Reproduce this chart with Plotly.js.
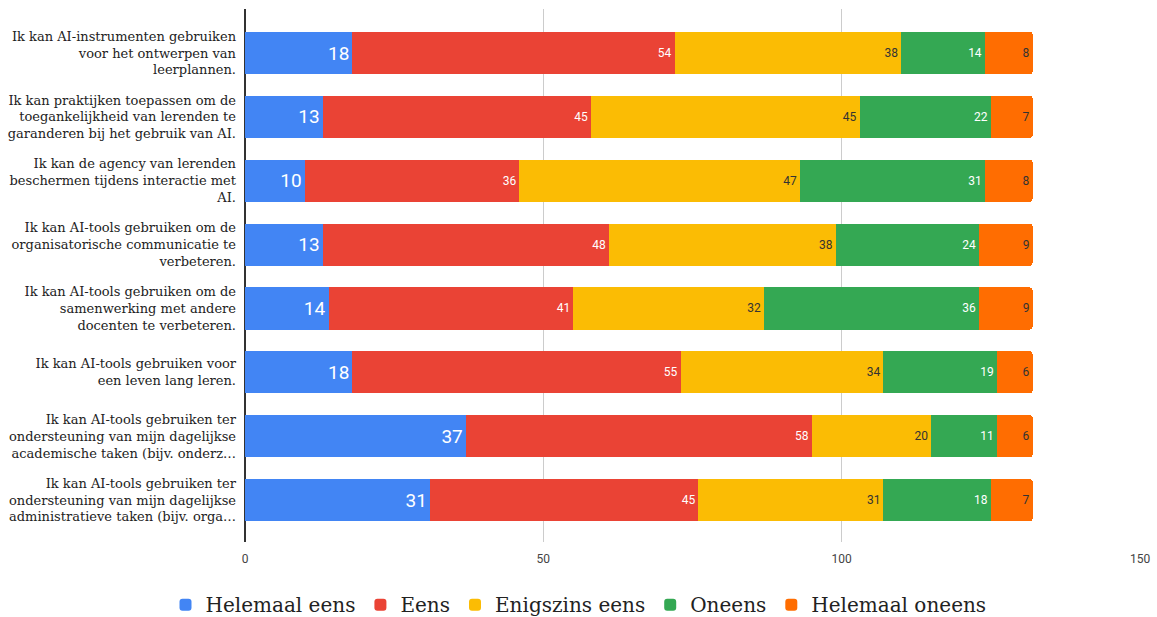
<!DOCTYPE html>
<html>
<head>
<meta charset="utf-8">
<script src="https://cdn.plot.ly/plotly-3.0.1.min.js"></script>
<style>html,body{margin:0;padding:0;background:#fff;}#chart{width:1157px;height:617px;}</style>
</head>
<body>
<div id="chart"></div>
<script>
const categories = [
  "Ik kan AI-instrumenten gebruiken<br>voor het ontwerpen van<br>leerplannen.",
  "Ik kan praktijken toepassen om de<br>toegankelijkheid van lerenden te<br>garanderen bij het gebruik van AI.",
  "Ik kan de agency van lerenden<br>beschermen tijdens interactie met<br>AI.",
  "Ik kan AI-tools gebruiken om de<br>organisatorische communicatie te<br>verbeteren.",
  "Ik kan AI-tools gebruiken om de<br>samenwerking met andere<br>docenten te verbeteren.",
  "Ik kan AI-tools gebruiken voor<br>een leven lang leren.",
  "Ik kan AI-tools gebruiken ter<br>ondersteuning van mijn dagelijkse<br>academische taken (bijv. onderz…",
  "Ik kan AI-tools gebruiken ter<br>ondersteuning van mijn dagelijkse<br>administratieve taken (bijv. orga…"
];
const seriesNames = ["Helemaal eens", "Eens", "Enigszins eens", "Oneens", "Helemaal oneens"];
const helemaalEens   = [18, 13, 10, 13, 14, 18, 37, 31];
const eens           = [54, 45, 36, 48, 41, 55, 58, 45];
const enigszinsEens  = [38, 45, 47, 38, 32, 34, 20, 31];
const oneens         = [14, 22, 31, 24, 36, 19, 11, 18];
const helemaalOneens = [8, 7, 8, 9, 9, 6, 6, 7];
const xTicks = [0, 50, 100, 150];

const seriesValues = [helemaalEens, eens, enigszinsEens, oneens, helemaalOneens];
const colors = ["#4285F4", "#EA4335", "#FBBC04", "#34A853", "#FF6D01"];
const textColors = ["#ffffff", "#ffffff", "#333333", "#ffffff", "#333333"];
const textSizes = [19, 12, 12, 12, 12];

const traces = seriesValues.map((vals, i) => ({
  type: "bar",
  orientation: "h",
  name: seriesNames[i],
  x: vals,
  y: categories,
  marker: {color: colors[i], line: {width: 0}},
  text: vals.map(v => String(v)),
  textposition: "inside",
  insidetextanchor: "end",
  textangle: 0,
  constraintext: "none",
  textfont: {family: "Roboto", size: textSizes[i], color: textColors[i]},
  hoverinfo: "x+name"
}));

const layout = {
  width: 1157,
  height: 617,
  barmode: "stack",
  bargap: 0.34,
  barcornerradius: 3,
  paper_bgcolor: "#fff",
  plot_bgcolor: "#fff",
  margin: {l: 245, r: 17, t: 9, b: 75},
  xaxis: {
    range: [0, 150],
    tickvals: xTicks,
    ticktext: xTicks.map(String),
    showgrid: true,
    gridcolor: "#cccccc",
    gridwidth: 1,
    zeroline: true,
    zerolinecolor: "#333333",
    zerolinewidth: 2,
    showline: false,
    ticks: "",
    ticklabelstandoff: 8,
    tickfont: {family: "Roboto", size: 12, color: "#444"}
  },
  yaxis: {
    type: "category",
    categoryorder: "array",
    categoryarray: categories,
    range: [7.657, -0.689],
    showgrid: false,
    zeroline: false,
    showline: false,
    ticks: "",
    ticklabelstandoff: 8,
    tickfont: {family: "DejaVu Serif", size: 13, color: "#222"}
  },
  showlegend: true,
  legend: {
    orientation: "h",
    xref: "container",
    yref: "container",
    x: 0.5,
    xanchor: "center",
    y: 0.02,
    yanchor: "middle",
    font: {family: "DejaVu Serif", size: 20, color: "#222"},
    itemwidth: 30,
    traceorder: "normal"
  }
};

Plotly.newPlot("chart", traces, layout, {displayModeBar: false, staticPlot: true});
</script>
</body>
</html>
